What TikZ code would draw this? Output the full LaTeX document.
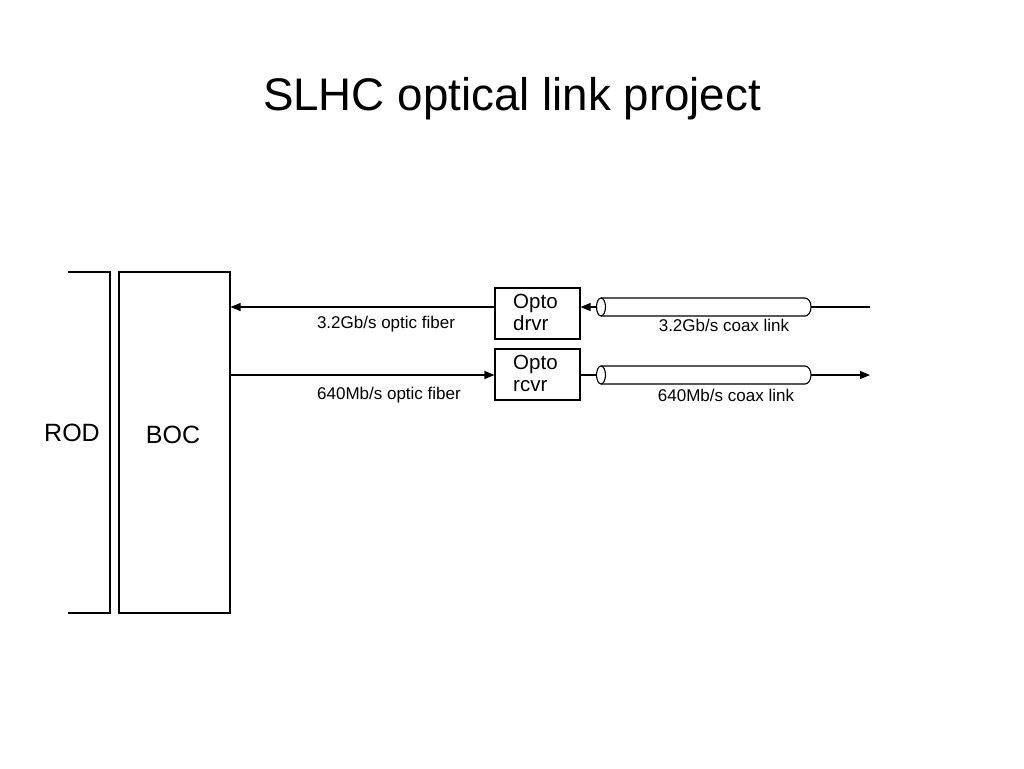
\documentclass[tikz,border=0pt]{standalone}
\usepackage{fontspec}
\setmainfont{Liberation Sans}
\usetikzlibrary{arrows.meta}
\begin{document}
\begin{tikzpicture}[x=1pt,y=-1pt,
  line/.style={draw=black,line width=1.1pt},
  arr/.style={line,-{Triangle[length=10pt,width=8pt]}},
  box/.style={draw=black,line width=1.1pt,inner sep=0pt},
  lbl/.style={font=\fontsize{17}{19}\selectfont,inner sep=0pt},
  big/.style={font=\fontsize{25}{29}\selectfont,inner sep=0pt},
  opto/.style={box,minimum width=85pt,minimum height=51pt},
  optotext/.style={anchor=base west,inner sep=0pt,font=\fontsize{20.5}{23}\selectfont}
]
\useasboundingbox (0,0) rectangle (1024,768);
\node[font=\fontsize{45.7}{52}\selectfont,inner sep=0pt] (title) at (512,99) {SLHC optical link project};
% ROD bracket
\coordinate (rodtl) at (68,272);
\coordinate (rodtr) at (110,272);
\coordinate (rodbr) at (110,613);
\coordinate (rodbl) at (68,613);
\draw[line] (rodtl) -- (rodtr) -- (rodbr) -- (rodbl);
\node[big] (rod) at (72,433) {ROD};
% BOC
\node[box,minimum width=111pt,minimum height=341pt] (boc) at (174.5,442.5) {};
\node[big] (boct) at (173,435) {BOC};
% opto boxes
\node[opto] (drvr) at (537.5,313.5) {};
\node[opto] (rcvr) at (537.5,374.5) {};
\node[optotext] (drvr1) at (513,308) {Opto};
\node[optotext] (drvr2) at (513,330) {drvr};
\node[optotext] (rcvr1) at (513,369) {Opto};
\node[optotext] (rcvr2) at (513,391.5) {rcvr};
% fibers
\draw[arr] (drvr.west |- 0,307) -- (boc.east |- 0,307);
\draw[arr] (boc.east |- 0,375) -- (rcvr.west |- 0,375);
\node[lbl] (l1) at (386,324) {3.2Gb/s optic fiber};
\node[lbl] (l2) at (389,395) {640Mb/s optic fiber};
% coax cables
\foreach \y/\n in {307/a,375/b}{
  \draw[line] (601,\y-9) -- (805,\y-9) arc[start angle=-90,end angle=90,x radius=6,y radius=9] -- (601,\y+9);
  \draw[line] (601,\y) ellipse[x radius=4.5,y radius=9];
}
\coordinate (car) at (811,307);
\coordinate (cbr) at (811,375);
\coordinate (ea) at (870,307);
\coordinate (eb) at (870,375);
\coordinate (cal) at (596.5,307);
\coordinate (cbl) at (596.5,375);
\draw[arr] (cal) -- (drvr.east |- 0,307);
\draw[line] (rcvr.east |- 0,375) -- (cbl);
\draw[line] (ea) -- (car);
\draw[arr] (cbr) -- (eb);
\node[lbl] (l3) at (724,325) {3.2Gb/s coax link};
\node[lbl] (l4) at (726,395) {640Mb/s coax link};
\end{tikzpicture}
\end{document}
